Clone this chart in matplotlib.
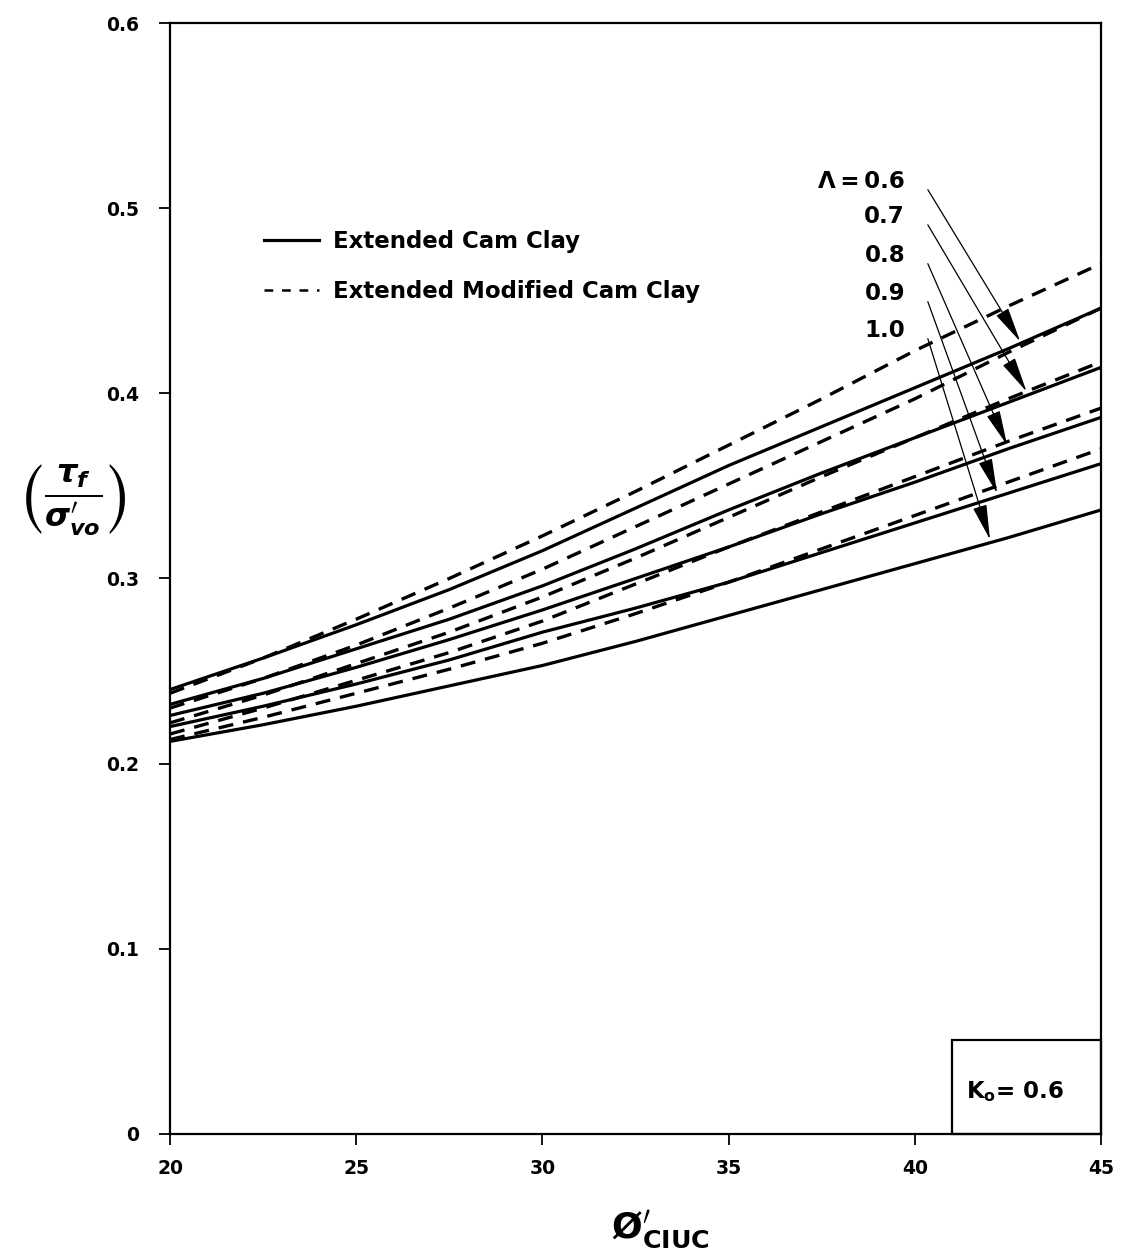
import numpy as np
import matplotlib
matplotlib.use("Agg")
import matplotlib.pyplot as plt
from matplotlib.patches import Rectangle
from matplotlib.lines import Line2D

plt.rcParams['font.family'] = ['DejaVu Sans']
plt.rcParams['font.weight'] = 'bold'
plt.rcParams['mathtext.fontset'] = 'dejavusans'

# friction angle from CIUC tests (deg)
phi = [20, 22.5, 25, 27.5, 30, 32.5, 35, 37.5, 40, 42.5, 45]

lambdas = ['0.6', '0.7', '0.8', '0.9', '1.0']

# Extended Cam Clay, one row per Lambda
ecc = [
    [0.240, 0.257, 0.275, 0.294, 0.315, 0.338, 0.361, 0.382, 0.403, 0.424, 0.446],
    [0.232, 0.246, 0.262, 0.278, 0.296, 0.316, 0.337, 0.357, 0.376, 0.395, 0.414],
    [0.226, 0.238, 0.252, 0.267, 0.283, 0.300, 0.317, 0.335, 0.352, 0.370, 0.387],
    [0.220, 0.231, 0.243, 0.256, 0.271, 0.284, 0.298, 0.314, 0.330, 0.346, 0.362],
    [0.212, 0.221, 0.231, 0.242, 0.253, 0.266, 0.280, 0.294, 0.308, 0.322, 0.337],
]

# Extended Modified Cam Clay
emcc = [
    [0.238, 0.257, 0.278, 0.300, 0.323, 0.347, 0.372, 0.397, 0.423, 0.447, 0.470],
    [0.230, 0.246, 0.264, 0.284, 0.305, 0.328, 0.351, 0.374, 0.397, 0.422, 0.446],
    [0.222, 0.237, 0.254, 0.271, 0.290, 0.311, 0.333, 0.355, 0.376, 0.397, 0.417],
    [0.216, 0.230, 0.245, 0.260, 0.277, 0.297, 0.317, 0.336, 0.355, 0.374, 0.392],
    [0.213, 0.225, 0.238, 0.251, 0.265, 0.281, 0.298, 0.316, 0.334, 0.352, 0.370],
]

# label baselines and arrow tips for each Lambda
label_y = [0.511, 0.492, 0.471, 0.4505, 0.4305]
arrow_tip = [(42.83, 0.428), (43.0, 0.401), (42.48, 0.372), (42.21, 0.346), (42.02, 0.321)]

yticks = [0, 0.1, 0.2, 0.3, 0.4, 0.5, 0.6]
ytick_labels = ['0', '0.1', '0.2', '0.3', '0.4', '0.5', '0.6']
xticks = [20, 25, 30, 35, 40, 45]

dash = (0, (4.5, 3.0))

fig = plt.figure(figsize=(11.23, 12.57), dpi=100)
ax = fig.add_axes([0.1514, 0.0979, 0.829, 0.8838])

for row in ecc:
    ax.plot(phi, row, color='k', lw=2.3, solid_capstyle='butt')
for row in emcc:
    ax.plot(phi, row, color='k', lw=2.4, linestyle=dash)

ax.set_xlim(20, 45)
ax.set_ylim(0, 0.6)
ax.set_xticks(xticks)
ax.set_yticks(yticks)
ax.set_yticklabels(ytick_labels)
ax.tick_params(direction='out', length=8, width=1.3, labelsize=13.5)
ax.tick_params(axis='x', pad=10)
ax.tick_params(axis='y', pad=14)
for lbl in ax.get_xticklabels() + ax.get_yticklabels():
    lbl.set_fontweight('bold')
for s in ax.spines.values():
    s.set_linewidth(1.6)

# legend
handles = [Line2D([], [], color='k', lw=2.3),
           Line2D([], [], color='k', lw=1.8, linestyle=(0, (3.5, 3.5)))]
ax.legend(handles, ['Extended Cam Clay', 'Extended Modified Cam Clay'],
          loc='upper left', bbox_to_anchor=(0.079, 0.8326), frameon=False,
          handlelength=2.4, handletextpad=0.6, labelspacing=1.2,
          prop={'size': 16.5, 'weight': 'bold'})

# Lambda labels with arrows
for i, (lab, ly, tip) in enumerate(zip(lambdas, label_y, arrow_tip)):
    txt = ('\u039b\u2009=\u2009' + lab) if i == 0 else lab
    ax.text(39.74, ly, txt, ha='right', va='baseline', fontsize=16.5, fontweight='bold')
    ax.annotate('', xy=tip, xytext=(40.35, ly - 0.001),
                arrowprops=dict(arrowstyle='-|>,head_length=1.1,head_width=0.22',
                                lw=0.9, color='k', mutation_scale=20,
                                shrinkA=0, shrinkB=0))

# K0 box
ax.add_patch(Rectangle((0.84, 0.0), 0.16, 0.0846, transform=ax.transAxes,
                       fill=False, lw=1.6, ec='k', clip_on=False))
ax.text(0.908, 0.038, r'K$_{\mathbf{o}}$= 0.6', transform=ax.transAxes,
        ha='center', va='center', fontsize=16.5, fontweight='bold')

# axis labels
fig.text(0.066, 0.602, r'$\left(\frac{\tau_f}{\sigma^{\prime}_{vo}}\right)$',
         ha='center', va='center', fontsize=33)
fig.text(0.588, 0.022, r'$\mathbf{\O}^{\prime}_{\mathbf{CIUC}}$',
         ha='center', va='center', fontsize=26)

fig.savefig('out.png', dpi=100)
